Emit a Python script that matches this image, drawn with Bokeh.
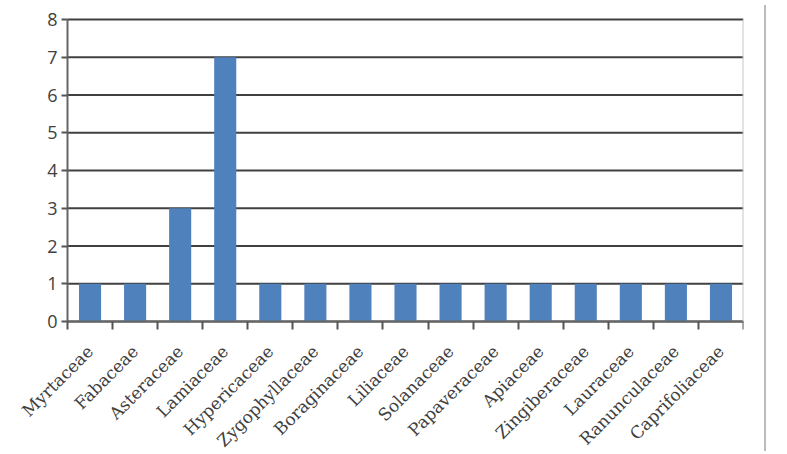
import math
from bokeh.plotting import figure
from bokeh.models import FixedTicker, Range1d, Div, LinearAxis
from bokeh.layouts import row
from bokeh.embed import file_html
from bokeh.resources import INLINE

families = ["Myrtaceae", "Fabaceae", "Asteraceae", "Lamiaceae", "Hypericaceae",
            "Zygophyllaceae", "Boraginaceae", "Liliaceae", "Solanaceae", "Papaveraceae",
            "Apiaceae", "Zingiberaceae", "Lauraceae", "Ranunculaceae", "Caprifoliaceae"]
counts = [1, 1, 3, 7, 1, 1, 1, 1, 1, 1, 1, 1, 1, 1, 1]
y_ticks = [0, 1, 2, 3, 4, 5, 6, 7, 8]
y_max = 8

n = len(families)
centers = [i + 0.5 for i in range(n)]

# The frame covers the whole canvas (so rotated labels are not clipped);
# the plot area 0..n x 0..8 maps to pixels 67..743 x 321..19.
px_x = 676 / n
px_y = 302 / y_max
x_left = -67 / px_x
y_bottom = -(454 - 321) / px_y
y_top = y_max + 19 / px_y

p = figure(width=759, height=454, output_backend="svg", toolbar_location=None,
           x_range=Range1d(x_left, n), y_range=Range1d(y_bottom, y_top),
           x_axis_location=None, y_axis_location=None,
           min_border_left=0, min_border_right=16, min_border_top=0, min_border_bottom=0)
p.outline_line_color = None
p.background_fill_color = "white"
p.border_fill_color = "white"
p.xgrid.visible = False
p.ygrid.visible = False

# horizontal gridlines across the plot area only
p.segment(x0=[0] * len(y_ticks), x1=[n] * len(y_ticks), y0=y_ticks, y1=y_ticks,
          line_color="#404040", line_width=2)

p.vbar(x=centers, top=counts, width=0.49, bottom=0, fill_color="#4F81BD", line_color=None)

# x axis fixed at y=0
xa = LinearAxis(fixed_location=0, bounds=(0, n))
xa.ticker = FixedTicker(ticks=centers, minor_ticks=list(range(n + 1)))
xa.major_label_overrides = {c: f for c, f in zip(centers, families)}
xa.major_label_orientation = math.pi / 4
xa.major_tick_out = 0
xa.major_tick_in = 0
xa.minor_tick_out = 8
xa.minor_tick_in = 0
xa.minor_tick_line_color = "#555555"
xa.minor_tick_line_width = 2
xa.axis_line_color = "#666666"
xa.axis_line_width = 2
xa.major_label_text_font = "DejaVu Serif"
xa.major_label_text_font_size = "17px"
xa.major_label_text_color = "#404040"
xa.major_label_standoff = 19
p.add_layout(xa, "below")

# y axis fixed at x=0
ya = LinearAxis(fixed_location=0, bounds=(0, y_max))
ya.ticker = FixedTicker(ticks=y_ticks, minor_ticks=[])
ya.major_tick_out = 6
ya.major_tick_in = 0
ya.major_tick_line_color = "#555555"
ya.major_tick_line_width = 2
ya.axis_line_color = "#666666"
ya.axis_line_width = 2
ya.major_label_text_font = "Open Sans"
ya.major_label_text_font_size = "18px"
ya.major_label_text_color = "#404040"
ya.major_label_standoff = 4
p.add_layout(ya, "left")

# light right border of the plot area
ra = LinearAxis(fixed_location=n, bounds=(0, y_max))
ra.ticker = FixedTicker(ticks=[], minor_ticks=[])
ra.major_tick_line_color = None
ra.minor_tick_line_color = None
ra.major_label_text_font_size = "1px"
ra.axis_line_color = "#c8c8c8"
ra.axis_line_width = 2
p.add_layout(ra, "right")

side = Div(width=2, height=446, styles={"background-color": "#bbbbbb"})
layout = row(p, side)

open("out.html", "w").write(file_html(layout, INLINE))
